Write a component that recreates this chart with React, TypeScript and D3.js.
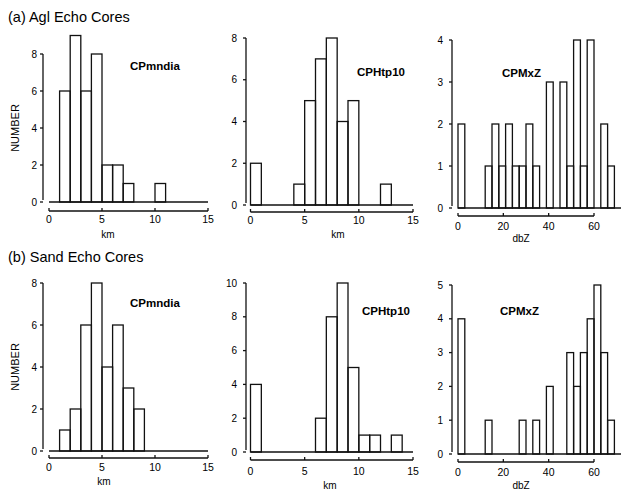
import React, { useEffect, useRef } from "react";
import * as d3 from "d3";

// bin counts (km bins are 1 km wide, dBZ bins 3 dBZ wide)
const kmTicks = [0, 5, 10, 15];
const dbzTicks = [0, 20, 40, 60];
const kmBinWidth = 1;
const dbzBinWidth = 3;

const aglMndia = [0, 6, 9, 6, 8, 2, 2, 1, 0, 0, 1, 0, 0, 0, 0];
const aglHtp10 = [2, 0, 0, 0, 1, 5, 7, 8, 4, 5, 0, 0, 1, 0, 0];
const aglMxZ = [2, 0, 0, 0, 1, 2, 1, 2, 1, 1, 2, 1, 0, 3, 0, 3, 1, 4, 1, 4, 0, 2, 1];

const sandMndia = [0, 1, 2, 6, 8, 4, 6, 3, 2, 0, 0, 0, 0, 0, 0];
const sandHtp10 = [4, 0, 0, 0, 0, 0, 2, 8, 10, 5, 1, 1, 0, 1, 0];
const sandMxZ = [4, 0, 0, 0, 1, 0, 0, 0, 0, 1, 0, 1, 0, 2, 0, 0, 3, 2, 3, 4, 5, 3, 1];

const titles = ["(a) Agl Echo Cores", "(b) Sand Echo Cores"];

const panels = [
  { counts: aglMndia, name: "CPmndia", unit: "km", bin: kmBinWidth, xTicks: kmTicks, xMax: 15, yTicks: [0, 2, 4, 6, 8], yMax: 8 },
  { counts: aglHtp10, name: "CPHtp10", unit: "km", bin: kmBinWidth, xTicks: kmTicks, xMax: 15, yTicks: [0, 2, 4, 6, 8], yMax: 8 },
  { counts: aglMxZ, name: "CPMxZ", unit: "dbZ", bin: dbzBinWidth, xTicks: dbzTicks, xMax: 60, yTicks: [0, 1, 2, 3, 4], yMax: 4 },
  { counts: sandMndia, name: "CPmndia", unit: "km", bin: kmBinWidth, xTicks: kmTicks, xMax: 15, yTicks: [0, 2, 4, 6, 8], yMax: 8 },
  { counts: sandHtp10, name: "CPHtp10", unit: "km", bin: kmBinWidth, xTicks: kmTicks, xMax: 15, yTicks: [0, 2, 4, 6, 8, 10], yMax: 10 },
  { counts: sandMxZ, name: "CPMxZ", unit: "dbZ", bin: dbzBinWidth, xTicks: dbzTicks, xMax: 60, yTicks: [0, 1, 2, 3, 4, 5], yMax: 5 },
];

// pixel layout of each panel
const layout = [
  { x0: 49, x1: 208, yb: 202, yt: 54, axX: 43, axY: 211, gap: 6, baseEnd: 15, tickY: 223, unitX: 108, unitY: 238, nameX: 130, nameY: 70, number: true },
  { x0: 250.5, x1: 413, yb: 205, yt: 38, axX: 246, axY: 212, gap: 9, baseEnd: 15, tickY: 224, unitX: 338, unitY: 238, nameX: 357, nameY: 76, number: false },
  { x0: 458, x1: 594, yb: 208, yt: 40, axX: 452, axY: 216, gap: 9, baseEnd: 75, tickY: 230, unitX: 521, unitY: 242, nameX: 502, nameY: 77, number: false },
  { x0: 49, x1: 208, yb: 451, yt: 283, axX: 43, axY: 458, gap: 6, baseEnd: 15, tickY: 471, unitX: 104, unitY: 485, nameX: 130, nameY: 307, number: true },
  { x0: 250.5, x1: 413, yb: 452, yt: 283, axX: 246, axY: 460, gap: 9, baseEnd: 15, tickY: 475, unitX: 330, unitY: 489, nameX: 362, nameY: 315, number: false },
  { x0: 458, x1: 594, yb: 454, yt: 285, axX: 452, axY: 462, gap: 9, baseEnd: 75, tickY: 476, unitX: 521, unitY: 489, nameX: 500, nameY: 315, number: false },
];

const font = "'Liberation Sans', Arial, Helvetica, sans-serif";

export default function App() {
  const ref = useRef<SVGSVGElement>(null);

  useEffect(() => {
    const svg = d3.select(ref.current);
    svg.selectAll("*").remove();

    svg.selectAll("text.title")
      .data(titles)
      .enter()
      .append("text")
        .attr("class", "title")
        .attr("x", 8)
        .attr("y", (d, i) => (i === 0 ? 22 : 262))
        .attr("font-size", 14.5)
        .text((d) => d);

    panels.forEach((p, k) => {
      const L = layout[k];
      const x = d3.scaleLinear().domain([0, p.xMax]).range([L.x0, L.x1]);
      const y = d3.scaleLinear().domain([0, p.yMax]).range([L.yb, L.yt]);
      const g = svg.append("g").attr("stroke", "#111").attr("stroke-width", 1.3).attr("fill", "none");

      // zero line under the bars
      g.append("line")
        .attr("x1", x(0)).attr("x2", x(L.baseEnd))
        .attr("y1", y(0)).attr("y2", y(0));

      // bars
      const bars = p.counts.map((c, i) => ({ c, lo: i * p.bin, hi: (i + 1) * p.bin })).filter((d) => d.c > 0);
      g.selectAll("rect")
        .data(bars)
        .enter()
        .append("rect")
          .attr("x", (d) => x(d.lo))
          .attr("y", (d) => y(d.c))
          .attr("width", (d) => x(d.hi) - x(d.lo))
          .attr("height", (d) => y(0) - y(d.c));

      // y axis
      g.append("line")
        .attr("x1", L.axX).attr("x2", L.axX)
        .attr("y1", y(p.yMax)).attr("y2", y(0) - 2);
      g.selectAll("line.yt")
        .data(p.yTicks)
        .enter()
        .append("line")
          .attr("class", "yt")
          .attr("x1", L.axX - 3).attr("x2", L.axX)
          .attr("y1", (d) => y(d)).attr("y2", (d) => y(d));
      svg.append("g")
        .selectAll("text")
        .data(p.yTicks)
        .enter()
        .append("text")
          .attr("x", L.axX - L.gap)
          .attr("y", (d) => y(d) + 3.5)
          .attr("text-anchor", "end")
          .attr("font-size", 10)
          .text((d) => d);

      // x axis, drawn below the zero line
      g.append("line")
        .attr("x1", x(0)).attr("x2", x(p.xTicks[p.xTicks.length - 1]))
        .attr("y1", L.axY).attr("y2", L.axY);
      g.selectAll("line.xt")
        .data(p.xTicks)
        .enter()
        .append("line")
          .attr("class", "xt")
          .attr("x1", (d) => x(d)).attr("x2", (d) => x(d))
          .attr("y1", L.axY).attr("y2", L.axY - 3);
      svg.append("g")
        .selectAll("text")
        .data(p.xTicks)
        .enter()
        .append("text")
          .attr("x", (d) => x(d))
          .attr("y", L.tickY)
          .attr("text-anchor", "middle")
          .attr("font-size", 10.5)
          .text((d) => d);

      svg.append("text")
        .attr("x", L.unitX)
        .attr("y", L.unitY)
        .attr("text-anchor", "middle")
        .attr("font-size", 10)
        .text(p.unit);

      svg.append("text")
        .attr("x", L.nameX)
        .attr("y", L.nameY)
        .attr("font-size", 11.5)
        .attr("font-weight", "bold")
        .text(p.name);

      if (L.number) {
        const cy = (L.yb + L.yt) / 2;
        svg.append("text")
          .attr("transform", `translate(19,${cy}) rotate(-90)`)
          .attr("text-anchor", "middle")
          .attr("font-size", 11)
          .text("NUMBER");
      }
    });
  }, []);

  return (
    <svg
      ref={ref}
      width={621}
      height={493}
      style={{ position: "absolute", left: 0, top: 0, background: "#fff", fontFamily: font }}
    />
  );
}
